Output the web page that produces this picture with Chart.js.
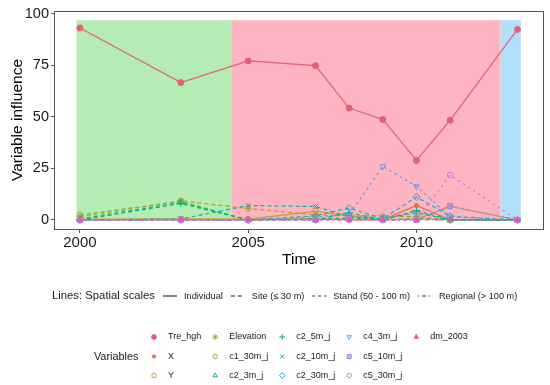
<!DOCTYPE html>
<html>
<head>
<meta charset="utf-8">
<script src="https://cdn.jsdelivr.net/npm/chart.js@4/dist/chart.umd.min.js"></script>
<style>
  html, body { margin: 0; padding: 0; background: #fff; }
  #wrap { width: 550px; height: 385px; }
</style>
</head>
<body>
<div id="wrap"><canvas id="chart" width="550" height="385"></canvas></div>
<script>
// data
const years = [2000, 2003, 2005, 2007, 2008, 2009, 2010, 2011, 2013];
const varNames = ['Tre_hgh', 'X', 'Y', 'Elevation', 'c1_30m_j', 'c2_3m_j', 'c2_5m_j',
  'c2_10m_j', 'c2_30m_j', 'c4_3m_j', 'c5_10m_j', 'c5_30m_j', 'dm_2003'];
const Tre_hgh   = [93.2, 66.7, 77.2, 74.9, 54.3, 48.8, 28.9, 48.4, 92.5];
const X         = [0, 0, 0, 0.5, 0, 0, 7.0, 0, 0];
const Y         = [0.3, 0.5, 0.4, 4.2, 2.0, 0.2, 0.3, 6.6, 0];
const Elevation = [1.5, 9.3, 5.5, 2.5, 2.0, 2.0, 1.5, 0, 0];
const c1_30m_j  = [2.4, 9.0, 0, 0.5, 1.0, 0, 0.5, 0, 0];
const c2_3m_j   = [0.5, 8.5, 0, 0.5, 0.8, 0, 0.5, 0, 0];
const c2_5m_j   = [0, 8.0, 0, 0, 3.5, 0, 4.5, 0, 0];
const c2_10m_j  = [0, 0.5, 7.0, 6.5, 1.5, 0.5, 3.5, 0, 0];
const c2_30m_j  = [0, 0, 0, 2.0, 5.8, 0.5, 11.2, 1.8, 0];
const c4_3m_j   = [0, 0, 0, 1.5, 2.5, 26.0, 16.3, 1.5, 0];
const c5_10m_j  = [0, 0, 0, 0, 0.5, 0, 0, 6.8, 0];
const c5_30m_j  = [0, 0, 0, 0, 0, 0, 0, 21.8, 0];
const dm_2003   = [0, 0, 0, 0, 0, 0, 0, 0, 0];
const values = [Tre_hgh, X, Y, Elevation, c1_30m_j, c2_3m_j, c2_5m_j,
  c2_10m_j, c2_30m_j, c4_3m_j, c5_10m_j, c5_30m_j, dm_2003];

const scaleNames = ['Individual', 'Site (\u2264 30 m)', 'Stand (50 - 100 m)', 'Regional (> 100 m)'];
const varScale = [0, 0, 0, 1, 1, 1, 1, 1, 1, 2, 2, 2, 3];

const xTicks = [2000, 2005, 2010];
const yTicks = [0, 25, 50, 75, 100];

// background periods
const periodStart = [1999.9, 2004.5, 2012.5];
const periodEnd = [2004.5, 2012.5, 2013.1];
const periodTop = 97;

// styles
const periodColors = ['#b4ecb4', '#ffb4c1', '#b2dffa'];
const colors = ['#e1607a', '#dd7244', '#d3962f', '#aaa130', '#7db238', '#2eb35a', '#00b38a',
  '#00b1b0', '#1ca8d6', '#5b9bee', '#9c8ae8', '#cb78e6', '#e55ab0'];
const dashes = [[], [4, 3], [2.5, 3.5], [1, 3, 4, 3]];
const marks = [
  { s: 'circle', r: 3, fill: 1 },
  { s: 'circle', r: 2, fill: 1 },
  { s: 'circle', r: 2.8, fill: 0 },
  { s: 'star', r: 3.5, fill: 0 },
  { s: 'circle', r: 2.8, fill: 0 },
  { s: 'triangle', r: 3.2, fill: 0 },
  { s: 'cross', r: 3.5, fill: 0 },
  { s: 'crossRot', r: 3.5, fill: 0 },
  { s: 'rectRot', r: 3.5, fill: 0 },
  { s: 'triangle', r: 3.2, fill: 0, rot: 180 },
  { s: 'rect', r: 3.5, fill: 0.5 },
  { s: 'circle', r: 2.8, fill: 0 },
  { s: 'triangle', r: 3.2, fill: 1 }
];
const FONT = '"Liberation Sans", Arial, sans-serif';

function fillFor(c, f) {
  if (f === 1) return c;
  if (f === 0) return 'rgba(0,0,0,0)';
  return c + '99';
}

const periodPlugin = {
  id: 'periods',
  beforeDatasetsDraw(chart) {
    const { ctx, chartArea, scales } = chart;
    ctx.save();
    ctx.beginPath();
    ctx.rect(chartArea.left, chartArea.top, chartArea.width, chartArea.height);
    ctx.clip();
    periodStart.forEach((s, i) => {
      const x0 = scales.x.getPixelForValue(s);
      const x1 = scales.x.getPixelForValue(periodEnd[i]);
      const y0 = scales.y.getPixelForValue(periodTop);
      const y1 = scales.y.getPixelForValue(0);
      ctx.fillStyle = periodColors[i];
      ctx.fillRect(x0, y0, x1 - x0, y1 - y0);
    });
    ctx.restore();
  }
};

function drawMark(ctx, i, x, y, scale) {
  const m = marks[i];
  ctx.save();
  ctx.fillStyle = fillFor(colors[i], m.fill);
  ctx.strokeStyle = colors[i];
  ctx.lineWidth = 1;
  Chart.helpers.drawPoint(ctx, { pointStyle: m.s, radius: m.r * scale, rotation: m.rot || 0, borderWidth: 1 }, x, y);
  ctx.restore();
}

const legendPlugin = {
  id: 'ggLegends',
  afterDraw(chart) {
    const { ctx, chartArea } = chart;
    // panel border
    ctx.save();
    ctx.strokeStyle = '#555';
    ctx.lineWidth = 1;
    ctx.strokeRect(Math.round(chartArea.left) - 0.5, Math.round(chartArea.top) + 0.5,
      Math.round(chartArea.width) + 1, Math.round(chartArea.height));
    ctx.restore();

    ctx.save();
    ctx.fillStyle = '#1a1a1a';
    ctx.textBaseline = 'middle';

    // line type legend
    let y = 296;
    ctx.font = '11.3px ' + FONT;
    ctx.textAlign = 'right';
    ctx.fillText('Lines: Spatial scales', 155, y);
    ctx.textAlign = 'left';
    ctx.font = '9.2px ' + FONT;
    let x = 163;
    scaleNames.forEach((name, i) => {
      ctx.save();
      ctx.strokeStyle = '#1a1a1a';
      ctx.lineWidth = 1.1;
      ctx.setLineDash(dashes[i]);
      ctx.beginPath();
      ctx.moveTo(x, y);
      ctx.lineTo(x + 14, y);
      ctx.stroke();
      ctx.restore();
      ctx.fillText(name, x + 21, y);
      x += 21 + ctx.measureText(name).width + 8;
    });

    // variables legend
    const rows = [337, 356.5, 375.5];
    ctx.font = '10.9px ' + FONT;
    ctx.textAlign = 'right';
    ctx.fillText('Variables', 138.5, rows[1]);
    ctx.textAlign = 'left';
    ctx.font = '9px ' + FONT;
    let mx = 154;
    for (let c = 0; c * 3 < varNames.length; c++) {
      let w = 0;
      for (let r = 0; r < 3; r++) {
        const i = c * 3 + r;
        if (i >= varNames.length) break;
        drawMark(ctx, i, mx, rows[r], 0.8);
        ctx.fillText(varNames[i], mx + 14, rows[r]);
        w = Math.max(w, ctx.measureText(varNames[i]).width);
      }
      mx += 14 + w + 14;
    }
    ctx.restore();
  }
};

function buildDatasets() {
  return varNames.map((name, i) => ({
    label: name,
    data: years.map((yr, j) => ({ x: yr, y: values[i][j] })),
    borderColor: colors[i],
    borderWidth: 1.2,
    borderDash: dashes[varScale[i]],
    pointStyle: marks[i].s,
    pointRadius: marks[i].r,
    pointRotation: marks[i].rot || 0,
    pointBorderColor: colors[i],
    pointBackgroundColor: fillFor(colors[i], marks[i].fill),
    pointBorderWidth: 1,
    tension: 0,
    order: varNames.length - i
  }));
}

function drawChart() {
  const ctx = document.getElementById('chart').getContext('2d');
  new Chart(ctx, {
    type: 'line',
    data: { datasets: buildDatasets() },
    plugins: [periodPlugin, legendPlugin],
    options: {
      responsive: false,
      animation: false,
      devicePixelRatio: 1,
      layout: { padding: { left: 0, top: 11, right: 7, bottom: 115 } },
      plugins: { legend: { display: false }, tooltip: { enabled: false } },
      scales: {
        x: {
          type: 'linear',
          min: 1999.26,
          max: 2013.76,
          afterBuildTicks: s => { s.ticks = xTicks.map(v => ({ value: v })); },
          afterFit: s => { s.height = 41; },
          border: { display: false },
          grid: { drawOnChartArea: false, drawTicks: true, tickLength: 4, color: '#555' },
          ticks: { color: '#1a1a1a', font: { family: FONT, size: 15 }, padding: 1, callback: v => String(v) },
          title: { display: true, text: 'Time', color: '#000', font: { family: FONT, size: 15.5 }, padding: { top: 0, bottom: 1 } }
        },
        y: {
          min: -4.4,
          max: 101.45,
          afterBuildTicks: s => { s.ticks = yTicks.map(v => ({ value: v })); },
          afterFit: s => { s.width = 55; },
          border: { display: false },
          grid: { drawOnChartArea: false, drawTicks: true, tickLength: 4, color: '#555' },
          ticks: { color: '#1a1a1a', font: { family: FONT, size: 14.5, lineHeight: 1 }, padding: 2 },
          title: { display: true, text: 'Variable influence', color: '#000', font: { family: FONT, size: 15.5 }, padding: { top: 8, bottom: 0 } }
        }
      }
    }
  });
}

document.addEventListener('DOMContentLoaded', drawChart);
</script>
</body>
</html>
